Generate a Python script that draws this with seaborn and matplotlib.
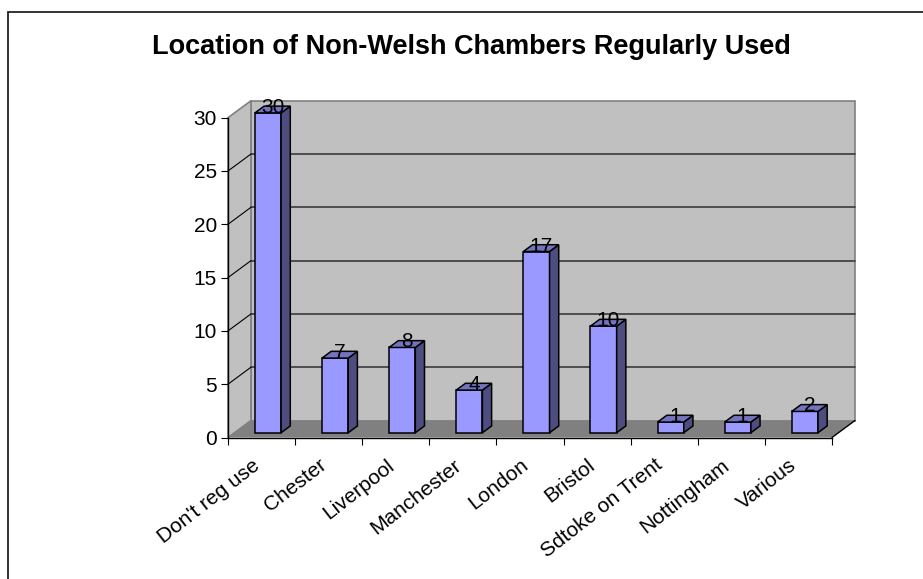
import numpy as np
import pandas as pd
import matplotlib
matplotlib.use("Agg")
import matplotlib.pyplot as plt
import seaborn as sns
from matplotlib.patches import Polygon, Rectangle
from matplotlib.transforms import ScaledTranslation

# Chart data
categories = ["Don't reg use", "Chester", "Liverpool", "Manchester", "London",
              "Bristol", "Sdtoke on Trent", "Nottingham", "Various"]
counts = [30, 7, 8, 4, 17, 10, 1, 1, 2]
y_ticks = [0, 5, 10, 15, 20, 25, 30]
title = "Location of Non-Welsh Chambers Regularly Used"

sns.set_style("white")
plt.rcParams["font.family"] = ["Liberation Sans", "DejaVu Sans"]
plt.rcParams.update({"text.color": "black", "xtick.color": "black",
                     "ytick.color": "black", "axes.labelcolor": "black"})

W, H = 923, 579
fig = plt.figure(figsize=(W / 100, H / 100), dpi=100)
fig.patch.set_facecolor("white")

# Front plane of the 3-D plot box (pixel layout converted to figure fractions)
ax_left, ax_right, ax_bottom, ax_top = 228, 832, 437.5, 117.7
ax = fig.add_axes([ax_left / W, (H - ax_bottom) / H,
                   (ax_right - ax_left) / W, (ax_bottom - ax_top) / H])
ax.set_facecolor("none")

df = pd.DataFrame({"location": categories, "count": counts})
sns.barplot(data=df, x="location", y="count", ax=ax, color="#9999ff",
            saturation=1, width=0.39, edgecolor="black", linewidth=1.1,
            errorbar=None)
bars = list(ax.patches)

n = len(categories)
ax.set_xlim(-0.5, n - 0.5)
ax.set_ylim(0, 30)

# depth of the box, expressed in data units
ux = (ax_right - ax_left) / n
uy = (ax_bottom - ax_top) / 30
DX, DY = 23 / ux, 17 / uy
x0w, x1w = -0.5, n - 0.5

# walls and floor
ax.add_patch(Rectangle((x0w + DX, DY), n, 30, fc="#c0c0c0", ec="#808080",
                       lw=1.2, zorder=0, clip_on=False))
ax.add_patch(Polygon([(x0w, 0), (x0w, 30), (x0w + DX, 30 + DY), (x0w + DX, DY)],
                     closed=True, fc="#c0c0c0", ec="#808080", lw=1.2,
                     zorder=0.5, clip_on=False))
ax.add_patch(Polygon([(x0w, 0), (x1w, 0), (x1w + DX, DY), (x0w + DX, DY)],
                     closed=True, fc="#808080", ec="none", zorder=1,
                     clip_on=False))
ax.plot([x1w, x1w + DX], [0, DY], color="black", lw=1, zorder=2, clip_on=False)

# gridlines on back wall and side wall
for v in y_ticks[1:-1]:
    ax.plot([x0w + DX, x1w + DX], [v + DY, v + DY], color="#3a3a3a", lw=1.2,
            zorder=0.8, clip_on=False)
    ax.plot([x0w, x0w + DX], [v, v + DY], color="black", lw=0.8,
            zorder=0.8, clip_on=False)

# 3-D bars: shift the fronts back and add side and top faces
FX, FY = 0.28 * DX, 0.28 * DY
BX, BY = 0.40 * DX, 0.40 * DY
for i, p in enumerate(bars):
    h = p.get_height()
    bx0 = p.get_x() + FX
    p.set_x(bx0)
    p.set_y(FY)
    p.set_zorder(3)
    p.set_clip_on(False)
    bx1 = bx0 + p.get_width()
    top = FY + h
    ax.add_patch(Polygon([(bx1, FY), (bx1 + BX, FY + BY), (bx1 + BX, top + BY), (bx1, top)],
                         closed=True, fc="#4d4d80", ec="black", lw=1.1,
                         zorder=3, clip_on=False))
    ax.add_patch(Polygon([(bx0, top), (bx1, top), (bx1 + BX, top + BY), (bx0 + BX, top + BY)],
                         closed=True, fc="#7373bf", ec="black", lw=1.1,
                         zorder=3, clip_on=False))
    ax.text((bx0 + bx1) / 2 + BX / 2, top, f"{counts[i]}", ha="center",
            va="baseline", fontsize=15, zorder=4, clip_on=False)

# axes lines and ticks
for s in ["top", "right"]:
    ax.spines[s].set_visible(False)
for s in ["left", "bottom"]:
    ax.spines[s].set_color("black")
    ax.spines[s].set_linewidth(1.0)
    ax.spines[s].set_zorder(2.5)

ax.set_xlabel("")
ax.set_ylabel("")
ax.set_yticks(y_ticks)
ax.tick_params(axis="y", length=5, width=0.8, pad=3, labelsize=15,
               direction="out", left=True, colors="black")
ax.set_xticks(np.arange(-0.5, n, 1.0))
ax.set_xticklabels([])
ax.tick_params(axis="x", which="major", length=5, width=0.8, direction="out",
               bottom=True, colors="black")
ax.set_xticks(np.arange(n), labels=categories, minor=True)
ax.tick_params(axis="x", which="minor", length=0, pad=13, labelsize=15,
               labelcolor="black")
shift = ScaledTranslation(-10 / 100, 0, fig.dpi_scale_trans)
for lab in ax.get_xticklabels(minor=True):
    lab.set_rotation(38)
    lab.set_ha("right")
    lab.set_va("top")
    lab.set_rotation_mode("anchor")
    lab.set_transform(lab.get_transform() + shift)

# title and chart-area border
fig.text(471 / W, (H - 54.3) / H, title, ha="center", va="baseline",
         fontsize=19.5, fontweight="bold", color="black")
fig.add_artist(Rectangle((8 / W, -0.1), 1.2, (H - 12) / H + 0.1,
                         transform=fig.transFigure, fill=False,
                         ec="#222222", lw=1.3))

fig.savefig("out.png", dpi=100)
